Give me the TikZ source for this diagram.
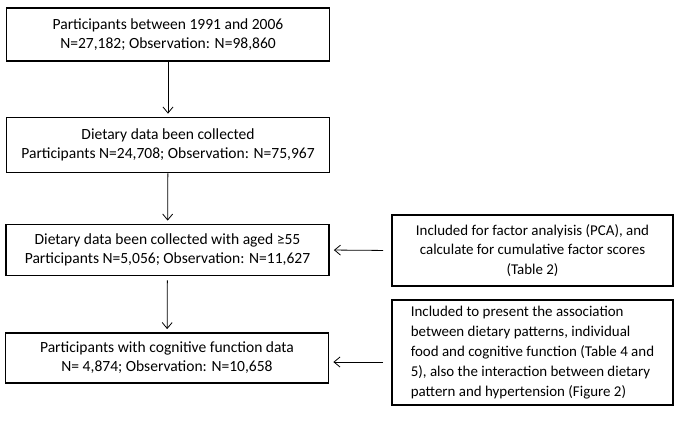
\documentclass[tikz,border=0pt]{standalone}
\usepackage{fontspec}
\setmainfont{Carlito}
\usetikzlibrary{arrows.meta}
\usetikzlibrary{positioning}

\begin{document}
\begin{tikzpicture}[x=1bp, y=1bp,
	stage/.style={draw, line width=1.8bp, minimum width=323bp, align=center, font=\fontsize{15.6}{19}\selectfont, inner sep=0pt},
	note/.style={draw, line width=1.8bp, minimum width=281bp, inner xsep=11bp, inner ysep=0pt, font=\fontsize{15}{20}\selectfont},
	flow/.style={-{Straight Barb[length=6bp, width=10bp]}, line width=0.8bp}]
	\useasboundingbox (0, 0) rectangle (680, -426);

	\node[stage, minimum height=53bp] (first) at (168, -34.5) {Participants between 1991 and 2006\\N=27,182; Observation: N=98,860};
	\node[stage, minimum height=55bp] (diet) at (168, -145) {Dietary data been collected\\Participants N=24,708; Observation: N=75,967};
	\node[stage, minimum height=51bp] (aged) at (167.5, -250) {Dietary data been collected with aged ≥55\\Participants N=5,056; Observation: N=11,627};
	\node[stage, minimum height=50bp] (cogn) at (167, -358) {Participants with cognitive function data\\N= 4,874; Observation: N=10,658};

	\node[note, minimum height=71bp, align=center] (pca) at (532.5, -250.5) {Included for factor analyisis (PCA), and\\calculate for cumulative factor scores\\(Table 2)};
	\node[note, minimum height=105bp, align=left] (assoc) at (532.5, -352.5) {Included to present the association\\between dietary patterns, individual\\food and cognitive function (Table 4 and\\5), also the interaction between dietary\\pattern and hypertension (Figure 2)};

	\draw[flow, shorten >=3bp] (first) -- (diet);
	\draw[flow, shorten >=3bp] (diet) -- (aged);
	\draw[flow, shorten <=4bp, shorten >=3bp] (aged) -- (cogn);

	\draw[flow, shorten <=8bp, shorten >=4bp] (pca.west) -- (aged.east);
	\draw[flow, shorten <=8bp, shorten >=4bp] ([yshift=-4bp]assoc.west |- cogn.east) -- ([yshift=-4bp]cogn.east);
\end{tikzpicture}
\end{document}
